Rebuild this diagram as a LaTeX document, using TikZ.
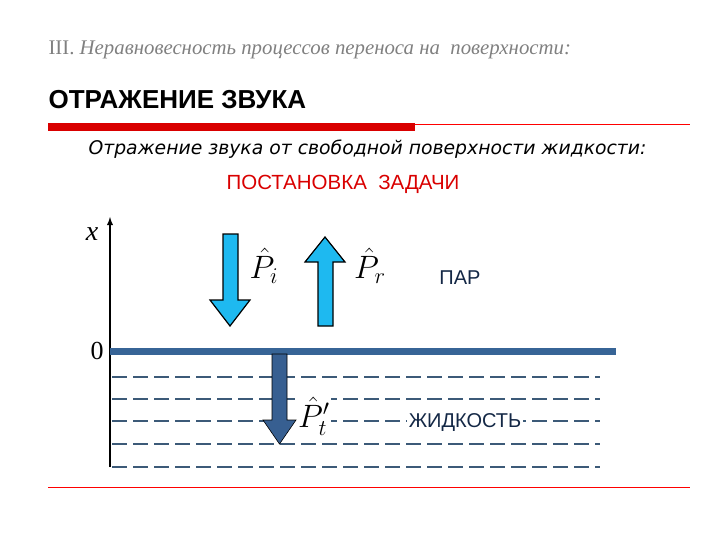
\documentclass[tikz,border=0pt]{standalone}
\usepackage{fontspec}
\setmainfont{Liberation Serif}
\setsansfont{Liberation Sans}
\newfontfamily\obl{DejaVu Sans}
\begin{document}
\begin{tikzpicture}[x=1pt,y=-1pt,
  bigarrow/.style={draw=black,line width=1.2pt},
  dashl/.style={draw={rgb,255:red,60;green,90;blue,120},line width=1.6pt,dash pattern=on 15pt off 6pt},
  lab/.style={font=\fontsize{24}{24}\selectfont},
  sflab/.style={font=\sffamily\fontsize{20}{20}\selectfont,text={rgb,255:red,20;green,40;blue,70}}]
\useasboundingbox (0,0) rectangle (720,540);
\node[anchor=west,text=gray,font=\fontsize{20.8}{20.8}\selectfont] (hdr) at (45,50) {III. \textit{Неравновесность процессов переноса на\ \ поверхности:}};
\node[anchor=west,font=\sffamily\bfseries\fontsize{26}{26}\selectfont] (ttl) at (45,100) {ОТРАЖЕНИЕ ЗВУКА};
\fill[red!85!black] (48,123) rectangle (415,131);
\draw[red,line width=0.8pt] (415,124) -- (690,124);
\draw[red,line width=0.8pt] (48,487) -- (690,487);
\node[anchor=west,font=\obl\itshape\fontsize{18.8}{18.8}\selectfont] (sub) at (85,149) {Отражение звука от свободной поверхности жидкости:};
\node[text=red!85!black,font=\sffamily\fontsize{20.5}{20.5}\selectfont] (pz) at (343,184) {ПОСТАНОВКА\ \ ЗАДАЧИ};
% axis
\coordinate (a0) at (110,467);
\coordinate (a1) at (110,217);
\draw[line width=1.8pt,-latex] (a0) -- (a1);
\node[font=\itshape\fontsize{28}{28}\selectfont] (xl) at (92,234) {x};
\node[font=\fontsize{26}{26}\selectfont] (zl) at (97,351) {0};
% dashed
\foreach \y in {377,399,421,444,467} \draw[dashl] (112,\y) -- (600,\y);
\draw[line width=7pt,draw={rgb,255:red,55;green,100;blue,150}] (110,351) -- (616,351);
% arrows
\filldraw[bigarrow,fill={rgb,255:red,30;green,185;blue,240}] (223,234) -- (238,234) -- (238,300) -- (250,300) -- (230,326) -- (210,300) -- (223,300) -- cycle;
\filldraw[bigarrow,fill={rgb,255:red,30;green,185;blue,240}] (318,326) -- (333,326) -- (333,262) -- (345,262) -- (325,237) -- (305,262) -- (318,262) -- cycle;
\filldraw[bigarrow,line width=0.6pt,fill={rgb,255:red,55;green,95;blue,145}] (272,354) -- (287,354) -- (287,420) -- (296,420) -- (279.5,444) -- (263,420) -- (272,420) -- cycle;
\node[lab] (pi) at (264,266) {\scalebox{1.3}{$\hat P_i$}};
\node[lab] (pr) at (370,266) {\scalebox{1.3}{$\hat P_r$}};
\node[lab,fill=white,inner sep=1pt] (pt) at (314,416) {\scalebox{1.3}{$\hat P_t'$}};
\node[sflab] (par) at (460,278) {ПАР};
\node[sflab,fill=white,inner sep=2pt] (zh) at (465,423) {ЖИДКОСТЬ};
\end{tikzpicture}
\end{document}
